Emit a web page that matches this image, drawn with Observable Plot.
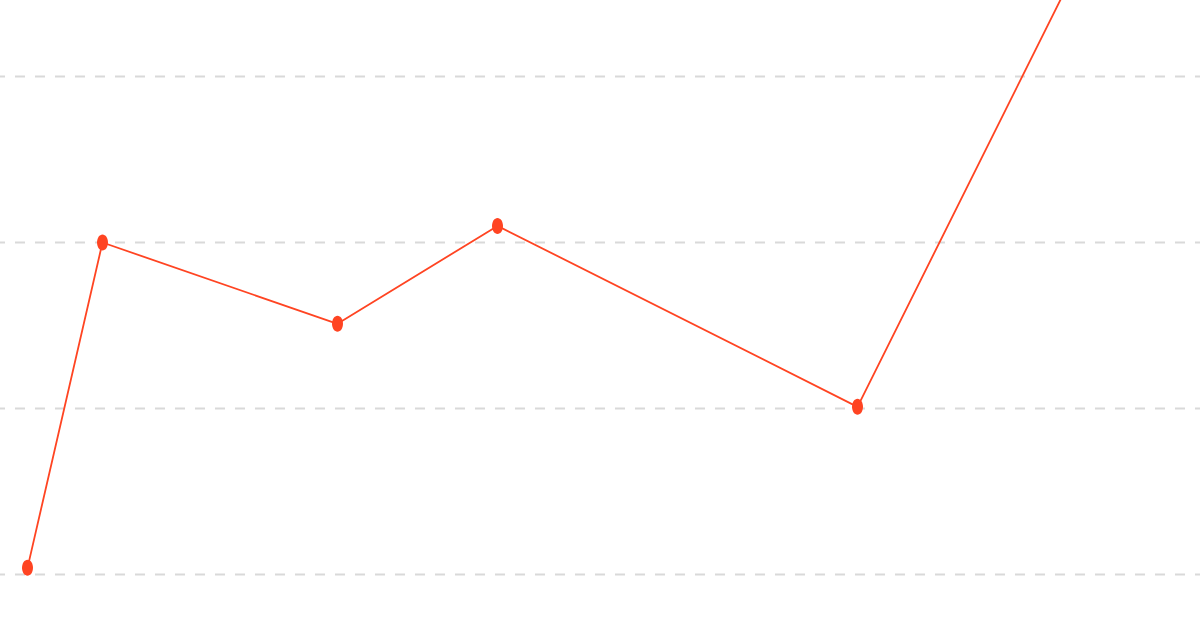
<!DOCTYPE html>
<html>
<head>
<meta charset="utf-8">
<script src="https://cdn.jsdelivr.net/npm/d3@7"></script>
<script src="https://cdn.jsdelivr.net/npm/@observablehq/plot@0.6"></script>
<style>
  html, body { margin: 0; padding: 0; background: #ffffff; overflow: hidden; }
  #chart svg { display: block; }
</style>
</head>
<body>
<div id="chart"></div>
<script>
// Data (x = day offset, y = value)
const days = [0, 15, 62, 94, 166, 215.5];
const values = [0.4, 20, 15.1, 21, 10.1, 40];
const gridTicks = [0, 10, 20, 30];

const data = days.map((d, i) => ({ day: d, value: values[i] }));

// Ellipse symbol (drawn with bezier curves)
const ellipse = {
  draw(ctx, size) {
    const rx = 5.5, ry = 8, k = 0.5523;
    ctx.moveTo(rx, 0);
    ctx.bezierCurveTo(rx, ry * k, rx * k, ry, 0, ry);
    ctx.bezierCurveTo(-rx * k, ry, -rx, ry * k, -rx, 0);
    ctx.bezierCurveTo(-rx, -ry * k, -rx * k, -ry, 0, -ry);
    ctx.bezierCurveTo(rx * k, -ry, rx, -ry * k, rx, 0);
    ctx.closePath();
  }
};

const color = "#ff4422";

const chart = Plot.plot({
  width: 1200,
  height: 627,
  margin: 0,
  style: { background: "#ffffff", overflow: "hidden" },
  x: { domain: [0, 200], range: [27, 1027], axis: null },
  y: { domain: [0, 30], range: [574, 76], axis: null },
  marks: [
    Plot.ruleY(gridTicks, {
      stroke: "#d9d9d9",
      strokeWidth: 2,
      strokeDasharray: "10,10",
      strokeDashoffset: 5
    }),
    Plot.line(data, { x: "day", y: "value", stroke: color, strokeWidth: 1.8 }),
    Plot.dot(data, { x: "day", y: "value", symbol: ellipse, fill: color, r: 6 })
  ]
});

document.getElementById("chart").appendChild(chart);
</script>
</body>
</html>
